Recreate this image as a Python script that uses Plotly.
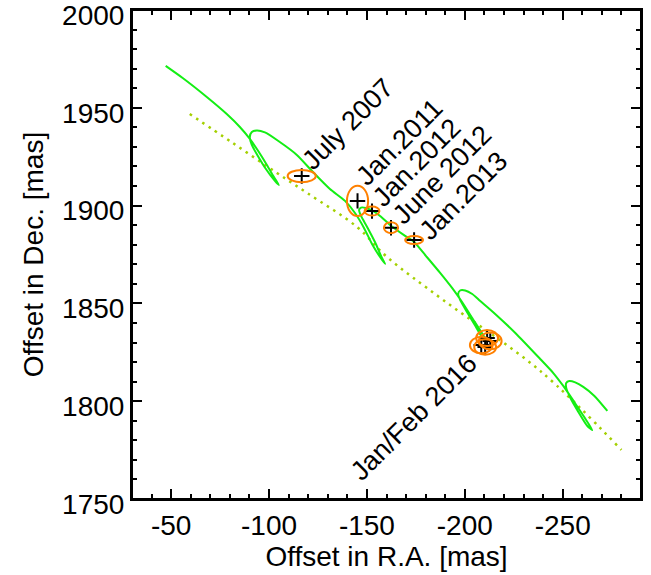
import plotly.graph_objects as go

# ---- data (mas) ----
orbit_ra = [-47.2, -55.9, -68.2, -78.4, -85.1, -90.2, -94.8, -98.9, -102.5, -105.0,
            -103.0, -98.4, -94.3, -91.2, -90.2, -91.2, -93.8, -97.9, -105.5, -114.2,
            -122.4, -131.1, -138.8, -143.9, -148.5, -152.6, -156.7, -159.3, -157.7, -154.1,
            -150.1, -147.0, -146.0, -147.0, -149.5, -152.6, -156.7, -161.8, -169.5, -174.1,
            -180.2, -187.4, -193.5, -198.6, -203.8, -208.4, -211.4, -209.4, -204.8, -200.2,
            -197.6, -196.6, -197.6, -200.2, -203.8, -207.9, -215.5, -225.8, -238.5, -245.2,
            -250.3, -255.9, -261.0, -265.1, -262.6, -258.0, -253.9, -251.8, -251.8, -253.4,
            -256.4, -260.5, -266.2, -272.8]
orbit_dec = [1971.4, 1965.2, 1955.5, 1946.8, 1940.2, 1934.1, 1927.4, 1920.8, 1914.6, 1910.5,
             1912.6, 1918.7, 1925.4, 1931.0, 1935.1, 1937.6, 1938.4, 1937.4, 1932.5, 1925.9,
             1917.2, 1908.5, 1902.4, 1896.2, 1888.6, 1880.4, 1873.7, 1870.2, 1873.2, 1881.4,
             1889.1, 1894.7, 1897.8, 1899.0, 1898.8, 1897.5, 1894.7, 1890.1, 1884.5, 1881.4,
             1874.2, 1865.6, 1857.9, 1850.7, 1842.5, 1835.4, 1830.3, 1831.8, 1839.5, 1847.2,
             1851.8, 1854.8, 1856.6, 1856.6, 1854.8, 1851.2, 1844.6, 1834.9, 1821.6, 1814.4,
             1807.8, 1799.6, 1791.9, 1785.3, 1787.3, 1794.5, 1801.7, 1806.8, 1809.3, 1810.3,
             1809.6, 1807.3, 1802.7, 1795.0]

pm_ra = [-59.5, -81.5, -104.0, -119.4, -144.9, -160.3, -188.9, -238.5, -280.0]
pm_dec = [1946.8, 1932.0, 1916.7, 1906.5, 1889.1, 1873.7, 1851.8, 1815.5, 1775.1]

obs_ra = [-116.7, -145.2, -152.6, -162.3, -174.1, -211.4, -213.0, -208.4, -210.4]
obs_dec = [1915.1, 1902.4, 1897.2, 1888.7, 1882.4, 1832.3, 1830.8, 1828.7, 1827.7]
err_ra = [7.2, 5.4, 3.8, 3.6, 4.6, 5.6, 5.8, 5.8, 5.6]
err_dec = [3.1, 7.7, 2.3, 2.8, 2.0, 4.1, 4.3, 4.2, 4.0]

label_text = ["July 2007", "Jan.2011", "Jan.2012", "June 2012", "Jan.2013", "Jan/Feb 2016"]
label_ra = [-140.3, -166.7, -175.1, -188.3, -199.2, -174.0]
label_dec = [1941.7, 1932.5, 1922.0, 1915.7, 1904.9, 1792.0]

x_ticks = [-50, -100, -150, -200, -250]
y_ticks = [1750, 1800, 1850, 1900, 1950, 2000]

FONT = "Liberation Sans, Arial, sans-serif"
FS = 28
FS_LBL = 27
GREEN = "#14ee14"
ORANGE = "#ff8000"
DOT = "#a4d000"

fig = go.Figure()

fig.add_trace(go.Scatter(x=pm_ra, y=pm_dec, mode="lines",
                         line=dict(color=DOT, width=2.5, dash="2.5px,5px", shape="spline"),
                         hoverinfo="skip", showlegend=False))
fig.add_trace(go.Scatter(x=orbit_ra, y=orbit_dec, mode="lines",
                         line=dict(color=GREEN, width=2, shape="spline", smoothing=0.7),
                         hoverinfo="skip", showlegend=False))

for cx, cy, a, b in zip(obs_ra, obs_dec, err_ra, err_dec):
    fig.add_shape(type="circle", xref="x", yref="y",
                  x0=cx - a, x1=cx + a, y0=cy - b, y1=cy + b,
                  line=dict(color=ORANGE, width=2))

fig.add_trace(go.Scatter(x=obs_ra, y=obs_dec, mode="markers",
                         marker=dict(symbol="cross-thin", size=11,
                                     line=dict(color="black", width=2)),
                         hoverinfo="skip", showlegend=False))

for t, lx, ly in zip(label_text, label_ra, label_dec):
    fig.add_annotation(x=lx, y=ly, xref="x", yref="y", text=t, showarrow=False,
                       textangle=-45, font=dict(family=FONT, size=FS_LBL, color="black"))

# plot frame
fig.add_shape(type="rect", xref="paper", yref="paper", x0=0, x1=1, y0=0, y1=1,
              line=dict(color="black", width=2), layer="above")

axis_common = dict(showline=True, linewidth=2, linecolor="black", mirror="ticks",
                   ticks="inside", ticklen=10, tickwidth=2, tickcolor="black",
                   showgrid=False, zeroline=False,
                   tickfont=dict(family=FONT, size=FS, color="black"),
                   minor=dict(ticks="inside", ticklen=5, tickwidth=2, tickcolor="black",
                              dtick=10, showgrid=False))

fig.update_xaxes(range=[-30, -290], tickvals=x_ticks, ticktext=[str(v) for v in x_ticks],
                 title=dict(text="Offset in R.A. [mas]",
                            font=dict(family=FONT, size=FS, color="black"), standoff=0),
                 **axis_common)
fig.update_yaxes(range=[1750, 2000], tickvals=y_ticks, ticktext=[str(v) for v in y_ticks],
                 ticklabeloverflow="allow", ticklabelshift=5,
                 title=dict(text="Offset in Dec. [mas]",
                            font=dict(family=FONT, size=FS, color="black"), standoff=10),
                 **axis_common)

fig.update_layout(width=651, height=575, margin=dict(l=132, r=10, t=10, b=76, autoexpand=False),
                  plot_bgcolor="white", paper_bgcolor="white",
                  font=dict(family=FONT, color="black"))

fig.write_html("out.html", post_script="document.body.style.margin='0px';",
               config={"displayModeBar": False})
